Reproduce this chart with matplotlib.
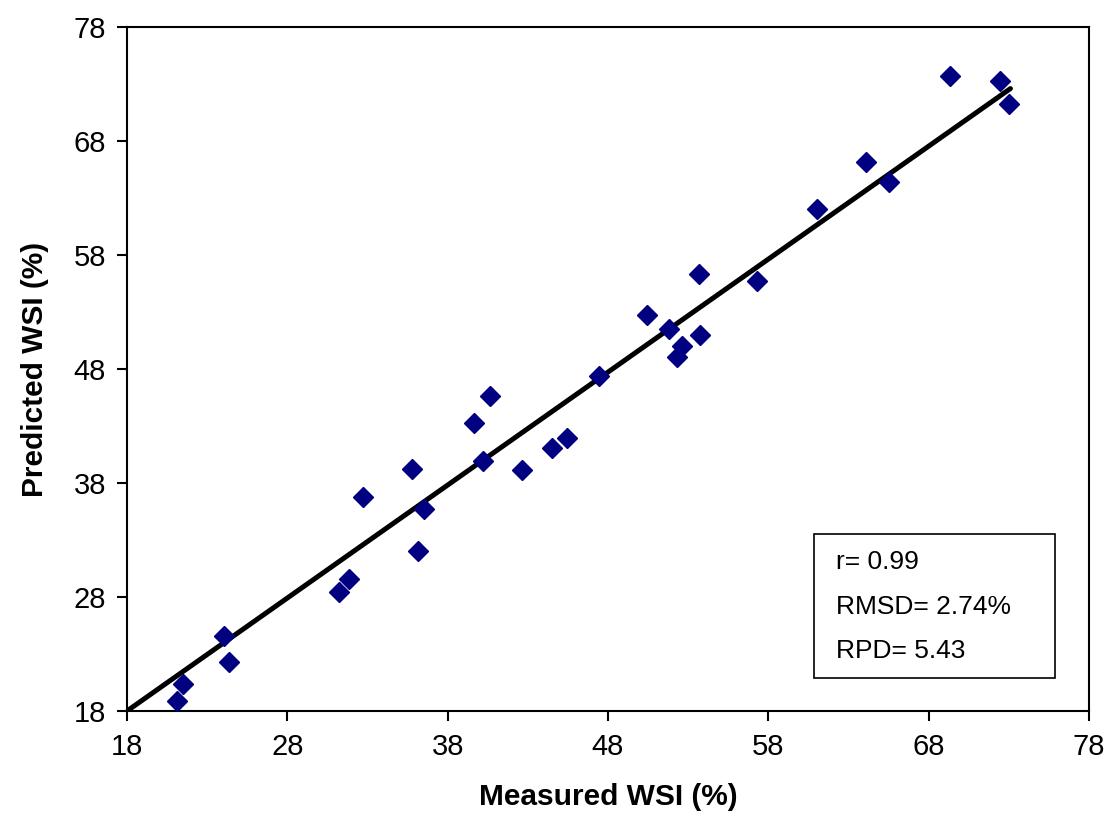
import matplotlib.pyplot as plt
from matplotlib.patches import Rectangle

# Measured vs predicted WSI (%)
measured = [21.14, 21.51, 24.07, 24.36, 31.20, 31.87, 32.70, 35.79, 36.17, 36.52,
            39.66, 40.22, 40.64, 42.66, 44.51, 45.42, 47.46, 50.41, 51.82, 52.28,
            52.62, 53.68, 53.74, 57.28, 61.02, 64.09, 65.55, 69.31, 72.45, 72.99]
predicted = [18.88, 20.34, 24.58, 22.27, 28.41, 29.58, 36.75, 39.23, 32.06, 35.72,
             43.26, 39.90, 45.63, 39.11, 41.07, 41.92, 47.39, 52.71, 51.48, 49.08,
             50.04, 56.31, 50.98, 55.75, 62.04, 66.13, 64.43, 73.70, 73.29, 71.25]
# trend line end points
trend_x = [18.0, 73.1]
trend_y = [18.0, 72.6]
ticks = [18, 28, 38, 48, 58, 68, 78]
stats = ["r= 0.99", "RMSD= 2.74%", "RPD= 5.43"]

plt.rcParams['font.family'] = ['Liberation Sans', 'DejaVu Sans']

fig = plt.figure(figsize=(11.11, 8.21), dpi=100)
ax = fig.add_axes([0.1143, 0.134, 0.8659, 0.8331])

ax.plot(measured, predicted, ls='none', marker='D', ms=10, color='#000080',
        mec='#000080', zorder=3)
ax.plot(trend_x, trend_y, color='black', lw=3.6, zorder=2, solid_capstyle='round')

ax.set_xlim(18, 78)
ax.set_ylim(18, 78)
ax.set_xticks(ticks)
ax.set_yticks(ticks)
ax.tick_params(axis='both', which='major', labelsize=21, direction='out',
               length=7, width=1.5)
ax.tick_params(axis='x', pad=9)
ax.tick_params(axis='y', pad=8)
for s in ax.spines.values():
    s.set_linewidth(1.5)

ax.set_xlabel('Measured WSI (%)', fontsize=21.5, fontweight='bold', labelpad=16)
ax.set_ylabel('Predicted WSI (%)', fontsize=21.5, fontweight='bold', labelpad=18)

# statistics box
ax.add_patch(Rectangle((0.714, 0.048), 0.251, 0.211, transform=ax.transAxes,
                       fill=False, ec='black', lw=1.2, zorder=4))
for txt, yy in zip(stats, [0.218, 0.152, 0.087]):
    ax.text(0.737, yy, txt, transform=ax.transAxes, fontsize=19,
            va='center', ha='left')

fig.savefig('out.png', dpi=100)
